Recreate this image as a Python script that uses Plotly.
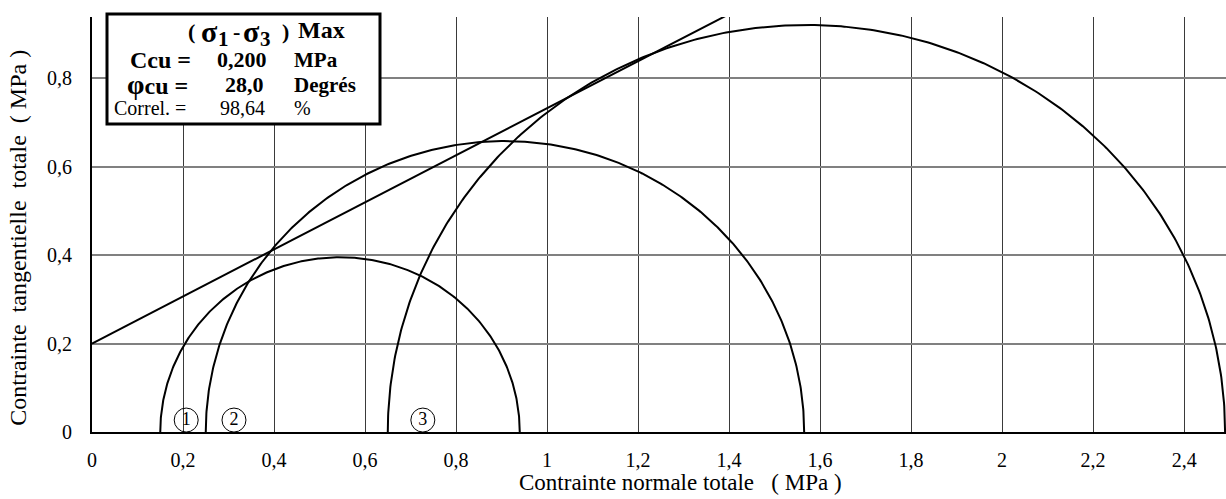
import numpy as np
import plotly.graph_objects as go

# ---- data ----
sigma3 = [0.15, 0.25, 0.65]          # MPa, minor principal stress
sigma1 = [0.94, 1.565, 2.49]         # MPa, major principal stress at (σ1-σ3) max
cohesion_txt = "0,200"               # Ccu (MPa)
cohesion = 0.200
phi_txt = "28,0"                     # φcu (degrees)
phi_deg = 28.0
correl_txt = "98,64"
circle_labels = ["1", "2", "3"]
label_x = [0.207, 0.312, 0.727]
label_y = [0.027, 0.027, 0.027]

x_tickvals = [0, 0.2, 0.4, 0.6, 0.8, 1, 1.2, 1.4, 1.6, 1.8, 2, 2.2, 2.4]
x_ticktext = ["0", "0,2", "0,4", "0,6", "0,8", "1", "1,2", "1,4", "1,6", "1,8", "2", "2,2", "2,4"]
y_tickvals = [0, 0.2, 0.4, 0.6, 0.8]
y_ticktext = ["0", "0,2", "0,4", "0,6", "0,8"]

FONT = "Liberation Serif"

fig = go.Figure()

# Mohr circles (upper halves)
theta = np.linspace(0, np.pi, 400)
for s3, s1 in zip(sigma3, sigma1):
    c = (s1 + s3) / 2
    r = (s1 - s3) / 2
    fig.add_trace(go.Scatter(x=c + r * np.cos(theta), y=r * np.sin(theta),
                             mode="lines", line=dict(color="black", width=2),
                             hoverinfo="skip", showlegend=False))

# Failure envelope
env_x = np.array([0.0, 2.0])
env_y = cohesion + np.tan(np.radians(phi_deg)) * env_x
fig.add_trace(go.Scatter(x=env_x, y=env_y, mode="lines",
                         line=dict(color="black", width=2),
                         hoverinfo="skip", showlegend=False))

# circled test numbers
fig.add_trace(go.Scatter(x=label_x, y=label_y, mode="markers+text",
                         text=circle_labels, textposition="middle center",
                         textfont=dict(family=FONT, size=18, color="black"),
                         marker=dict(symbol="circle-open", size=24,
                                     line=dict(color="black", width=1), color="black"),
                         hoverinfo="skip", showlegend=False, cliponaxis=False))

fig.update_layout(
    width=1226, height=499,
    margin=dict(l=92, r=0, t=17, b=67),
    paper_bgcolor="white", plot_bgcolor="white",
    font=dict(family=FONT, size=20, color="black"),
    showlegend=False,
)
fig.update_xaxes(range=[0, 2.492], tickvals=x_tickvals, ticktext=x_ticktext,
                 showgrid=True, gridcolor="#3a3a3a", gridwidth=1,
                 showline=True, linecolor="black", linewidth=2,
                 zeroline=False, ticks="", ticklabelstandoff=9,
                 tickfont=dict(family=FONT, size=20))
fig.update_yaxes(range=[0, 0.938], tickvals=y_tickvals, ticktext=y_ticktext,
                 showgrid=True, gridcolor="#808080", gridwidth=2,
                 showline=True, linecolor="black", linewidth=2,
                 zeroline=False, ticks="", ticklabelstandoff=14,
                 tickfont=dict(family=FONT, size=20))

# axis titles
fig.add_annotation(text="Contrainte normale totale   ( MPa )", xref="paper", yref="paper",
                   x=0.519, y=-0.122, showarrow=False, xanchor="center", yanchor="middle",
                   font=dict(family=FONT, size=23))
fig.add_annotation(text="Contrainte  tangentielle  totale  ( MPa )", xref="paper", yref="paper",
                   x=-0.0653, y=0.468, showarrow=False, textangle=-90,
                   xanchor="center", yanchor="middle", font=dict(family=FONT, size=24))

# info box
def px_x(p):
    return (p - 92) / 1134.0

def px_y(p):
    return (432 - p) / 415.0

fig.add_shape(type="rect", xref="paper", yref="paper",
              x0=px_x(107), x1=px_x(380), y0=px_y(124), y1=px_y(14),
              line=dict(color="black", width=3), fillcolor="white", layer="above")

def txt(s, x, y, size, bold=False, anchor="center"):
    fig.add_annotation(text=("<b>%s</b>" % s) if bold else s, xref="paper", yref="paper",
                       x=px_x(x), y=px_y(y), showarrow=False, xanchor=anchor, yanchor="middle",
                       font=dict(family=FONT, size=size, color="black"))

# title row: ( σ1 - σ3 )  Max
txt("(", 191, 31, 22, bold=True)
txt("σ", 209, 31, 30, bold=True)
txt("1", 223, 39, 21, bold=True)
txt("-", 236, 31, 22, bold=True)
txt("σ", 251, 31, 30, bold=True)
txt("3", 265, 39, 21, bold=True)
txt(")", 285, 31, 22, bold=True)
txt("Max", 296, 30, 24, bold=True, anchor="left")

txt("Ccu =", 160, 60, 24, bold=True)
txt(cohesion_txt, 242, 60, 22, bold=True)
txt("MPa", 292, 60, 21, bold=True, anchor="left")
txt("<span style='font-size:28px'>φ</span>cu =", 157, 85, 24, bold=True)
txt(phi_txt, 244, 85, 22, bold=True)
txt("Degrés", 292, 85, 21, bold=True, anchor="left")
txt("Correl. =", 150, 108, 20)
txt(correl_txt, 242, 108, 20)
txt("%", 292, 108, 20, anchor="left")

fig.write_html("out.html")
